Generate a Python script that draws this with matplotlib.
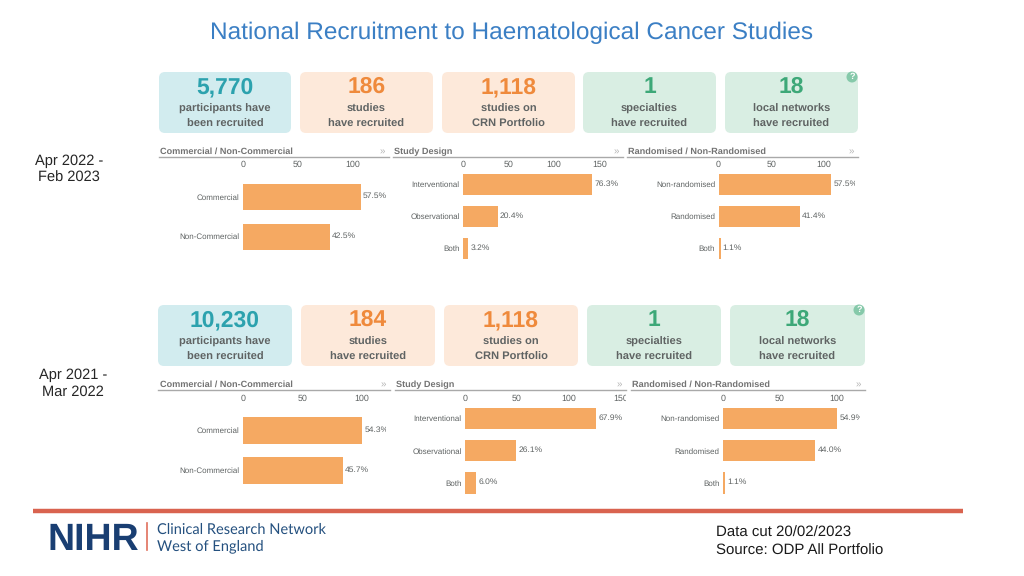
import matplotlib
matplotlib.use('Agg')
import matplotlib.pyplot as plt
from matplotlib.patches import FancyBboxPatch, Circle
from matplotlib.transforms import Bbox

plt.rcParams['font.family'] = ['Liberation Sans', 'DejaVu Sans']
plt.rcParams['text.hinting'] = 'none'

# Data
commercial_cats = ['Commercial', 'Non-Commercial']
design_cats = ['Interventional', 'Observational', 'Both']
random_cats = ['Non-randomised', 'Randomised', 'Both']
commercial_ticks = [0, 50, 100]
design_ticks = [0, 50, 100, 150]
random_ticks = [0, 50, 100]

# bar lengths are in the dashboard's units, labels are the printed percentages
commercial_2022 = [107, 79]
design_2022 = [142, 38, 6]
random_2022 = [107, 77, 2]
commercial_2022_pct = ['57.5%', '42.5%']
design_2022_pct = ['76.3%', '20.4%', '3.2%']
random_2022_pct = ['57.5%', '41.4%', '1.1%']

commercial_2021 = [100, 84]
design_2021 = [126, 49, 11]
random_2021 = [100, 81, 2]
commercial_2021_pct = ['54.3%', '45.7%']
design_2021_pct = ['67.9%', '26.1%', '6.0%']
random_2021_pct = ['54.9%', '44.0%', '1.1%']

card_labels = ['participants have\nbeen recruited', 'studies\nhave recruited', 'studies on\nCRN Portfolio',
               'specialties\nhave recruited', 'local networks\nhave recruited']
card_values_2022 = ['5,770', '186', '1,118', '1', '18']
card_values_2021 = ['10,230', '184', '1,118', '1', '18']

BAR = '#f5a962'
GREY = '#5f6363'
TEAL = ('#d2ecef', '#2ca2ae')
ORANGE = ('#fde9da', '#ef8a3c')
GREEN = ('#d9eee3', '#3da878')
card_styles = [TEAL, ORANGE, ORANGE, GREEN, GREEN]

W, H = 1024, 576
fig = plt.figure(figsize=(W / 100, H / 100), dpi=100, facecolor='white')

# background axes works in image pixels, y going down
bg = fig.add_axes([0, 0, 1, 1])
bg.set_xlim(0, W)
bg.set_ylim(H, 0)
bg.axis('off')


def draw_cards(values, xs, top, bottom):
    for (x0, x1), val, lab, (fill, col) in zip(xs, values, card_labels, card_styles):
        bg.add_patch(FancyBboxPatch((x0 + 5, top + 5), x1 - x0 - 10, bottom - top - 10,
                                    boxstyle='round,pad=5,rounding_size=6', fc=fill, ec='none'))
        cx = (x0 + x1) / 2
        bg.text(cx, top + 21, val, color=col, fontsize=16.5, fontweight='bold', ha='center', va='baseline')
        line1, line2 = lab.split('\n')
        bg.text(cx, top + 40, line1, color=GREY, fontsize=8, fontweight='bold', ha='center', va='baseline')
        bg.text(cx, top + 55, line2, color=GREY, fontsize=8, fontweight='bold', ha='center', va='baseline')
    # help marker
    hx, hy = xs[-1][1] - 6, top + 5
    bg.add_patch(Circle((hx, hy), 5.5, fc='#86c9aa', ec='none'))
    bg.text(hx, hy, '?', color='white', fontsize=6.5, fontweight='bold', ha='center', va='center')


def draw_header(title, x0, x1, line_y):
    bg.plot([x0, x1], [line_y, line_y], color='#a9a9a9', lw=1)
    bg.text(x0 + 1.5, line_y - 5.5, title, color='#737373', fontsize=6.6, fontweight='bold', ha='left', va='center')
    bg.text(x1 - 7, line_y - 5.5, '»', color='#b5b5b5', fontsize=7, ha='center', va='center')


def draw_panel(cats, vals, pct, ticks, zero, right, px_per_unit, first_row, pitch, bar_h, label_bottom):
    top = first_row - pitch / 2
    bottom = top + pitch * len(cats)
    ax = fig.add_axes([zero / W, 1 - bottom / H, (right - zero) / W, (bottom - top) / H])
    ax.patch.set_alpha(0)
    ax.set_xlim(0, (right - zero) / px_per_unit)
    ax.set_ylim(len(cats) - 0.5, -0.5)
    ax.barh(range(len(cats)), vals, height=bar_h / pitch, color=BAR)
    for i, (v, p) in enumerate(zip(vals, pct)):
        ax.annotate(p, (v, i), xytext=(1.6, 0.7), textcoords='offset points', color=GREY,
                    fontsize=6.1, ha='left', va='center', annotation_clip=False, clip_on=True)
    for s in ax.spines.values():
        s.set_visible(False)
    ax.xaxis.tick_top()
    ax.set_xticks(ticks)
    ax.set_yticks(range(len(cats)))
    ax.set_yticklabels(cats)
    ax.tick_params(axis='x', length=0, pad=(top - label_bottom) * 0.72, labelsize=6.4, labelcolor=GREY)
    ax.tick_params(axis='y', length=0, pad=2.4, labelsize=5.8, labelcolor=GREY)
    # the dashboard screenshot cuts off labels at the panel edge
    keep = Bbox([[0, 0], [right, H]])
    for lab in ax.get_xticklabels():
        lab.set_clip_box(keep)
        lab.set_clip_on(True)


# title
bg.text(512, 33, 'National Recruitment to Haematological Cancer Studies', color='#3b7fc4',
        fontsize=17.6, ha='center', va='center')

# Apr 2022 - Feb 2023 block
draw_cards(card_values_2022, [(159, 291), (300, 433), (442, 575), (583, 716), (725, 858)], 72, 133)
draw_header('Commercial / Non-Commercial', 159, 389, 157)
draw_header('Study Design', 393, 623, 157)
draw_header('Randomised / Non-Randomised', 627, 858, 157)
draw_panel(commercial_cats, commercial_2022, commercial_2022_pct, commercial_ticks,
           243, 386, 1.10, 197, 39.5, 26, 169)
draw_panel(design_cats, design_2022, design_2022_pct, design_ticks,
           463, 622, 0.91, 184.5, 32, 21, 169)
draw_panel(random_cats, random_2022, random_2022_pct, random_ticks,
           718.5, 855, 1.055, 184.5, 32, 21, 169)

# Apr 2021 - Mar 2022 block
draw_cards(card_values_2021, [(158, 292), (301, 435), (444, 578), (587, 721), (730, 865)], 305, 366)
draw_header('Commercial / Non-Commercial', 158, 390, 390)
draw_header('Study Design', 395, 626, 390)
draw_header('Randomised / Non-Randomised', 631, 865, 390)
draw_panel(commercial_cats, commercial_2021, commercial_2021_pct, commercial_ticks,
           243, 386, 1.19, 430.5, 40, 27, 403)
draw_panel(design_cats, design_2021, design_2021_pct, design_ticks,
           465, 626, 1.04, 418.5, 32.2, 21.5, 403)
draw_panel(random_cats, random_2021, random_2021_pct, random_ticks,
           723, 860, 1.14, 418.5, 32.2, 21.5, 403)

# period labels
bg.text(69, 169.5, 'Apr 2022 -\nFeb 2023', color='#262626', fontsize=10.5, ha='center', va='center', linespacing=1.35)
bg.text(73, 383.5, 'Apr 2021 -\nMar 2022', color='#262626', fontsize=10.5, ha='center', va='center', linespacing=1.35)

# footer
bg.plot([33, 963], [511, 511], color='#d9634f', lw=3.2, solid_capstyle='butt')
bg.text(47, 550, 'NIHR', color='#193e72', fontsize=27, fontweight='bold', ha='left', va='baseline')
bg.plot([147, 147], [523, 550], color='#e0705c', lw=1.2)
bg.text(157, 534, 'Clinical Research Network', color='#24507f', fontsize=10.5, family='Lato', ha='left', va='baseline')
bg.text(157, 550, 'West of England', color='#24507f', fontsize=10.5, family='Lato', ha='left', va='baseline')
bg.text(716, 533, 'Data cut 20/02/2023', color='#1a1a1a', fontsize=10.8, ha='left', va='center')
bg.text(716, 551, 'Source: ODP All Portfolio', color='#1a1a1a', fontsize=10.8, ha='left', va='center')

fig.savefig('out.png', dpi=100)
